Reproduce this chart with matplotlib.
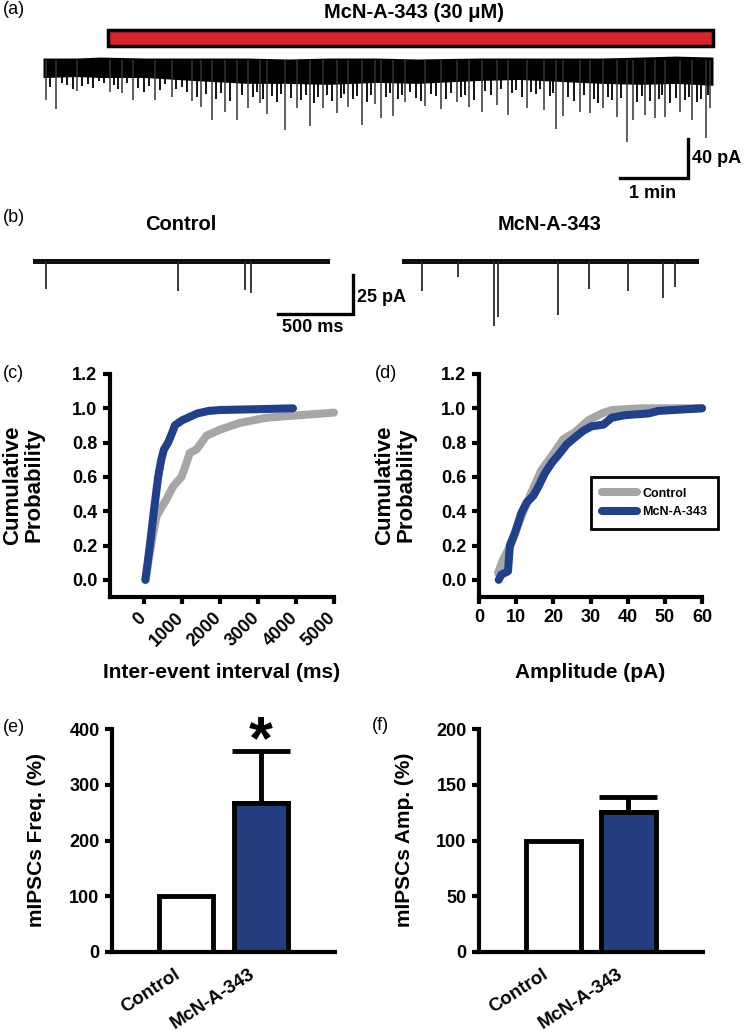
import matplotlib
matplotlib.use("Agg")
import matplotlib.pyplot as plt
from matplotlib.patches import Rectangle
from matplotlib.transforms import ScaledTranslation

plt.rcParams['font.family'] = ['Liberation Sans', 'DejaVu Sans']
plt.rcParams['font.weight'] = 'bold'
plt.rcParams['axes.labelweight'] = 'bold'

W, H = 751, 1035
BLUE = '#21408c'
BAR_BLUE = '#233e7f'
GRAY = '#a6a6a6'
RED = '#d9232e'

# ---- (a) long trace: band envelope (pA), larger events and smaller events (min, pA)
env_t = [0.0, 0.5, 0.84, 1.5, 2.2, 3.0, 3.6, 4.2, 4.9, 5.5, 6.4, 7.0, 7.6, 8.2, 8.8, 9.3, 9.85]
env_top = [2, 2, 3, 2, 2, 2, 1, 2, 2, 1, 2, 2, 2, 2, 3, 4, 3]
env_bot = [-18, -17, -18, -18, -21, -24, -24, -25, -23, -24, -21, -20, -22, -24, -25, -24, -26]
event_t = [0.05, 0.19, 0.50, 0.99, 1.16, 1.32, 1.65, 1.89, 2.19, 2.32, 2.48, 2.68, 2.85,
           3.01, 3.19, 3.29, 3.56, 3.73, 3.92, 4.12, 4.32, 4.49, 4.69, 4.88, 4.97, 5.14,
           5.32, 5.62, 5.85, 6.09, 6.26, 6.45, 6.67, 6.84, 7.11, 7.36, 7.54, 7.65, 7.90,
           8.04, 8.24, 8.44, 8.59, 8.68, 8.85, 9.00, 9.15, 9.37, 9.54, 9.74, 9.81]
event_amp = [41, 50, 32, 33, 34, 41, 41, 38, 42, 48, 62, 53, 62, 49, 44, 55, 72, 49, 68,
             49, 54, 48, 67, 45, 59, 57, 43, 47, 50, 43, 48, 53, 46, 56, 49, 51, 71, 57,
             53, 54, 49, 58, 84, 62, 56, 60, 58, 53, 62, 80, 49]
minor_t = [0.1, 0.28, 0.36, 0.44, 0.58, 0.66, 0.74, 0.82, 0.9,
           1.05, 1.1, 1.24, 1.4, 1.48, 1.56, 1.72, 1.8, 1.96, 2.04, 2.12,
           2.26, 2.4, 2.55, 2.62, 2.75, 2.92, 3.08, 3.14, 3.24, 3.36, 3.44, 3.5, 3.64, 3.8,
           3.86, 3.98, 4.05, 4.18, 4.25, 4.38, 4.43, 4.56, 4.62, 4.76, 4.82,
           5.04, 5.1, 5.22, 5.28, 5.4, 5.48, 5.55, 5.7, 5.78, 5.93, 6.0, 6.15, 6.2, 6.34,
           6.5, 6.58, 6.74, 6.9, 6.96, 7.04, 7.18, 7.25, 7.3, 7.45, 7.5,
           7.72, 7.8, 7.96, 8.1, 8.16, 8.3, 8.36, 8.5, 8.74, 8.8, 8.92, 9.06, 9.1, 9.22,
           9.3, 9.44, 9.5, 9.62, 9.68, 9.78]
minor_amp = [28, 24, 26, 30, 27, 25, 29, 22, 24,
             26, 30, 24, 29, 33, 27, 31, 25, 30, 28, 33,
             38, 35, 40, 34, 42, 36, 38, 33, 40, 37, 43, 35, 39, 41,
             36, 44, 38, 36, 42, 39, 35, 40, 37, 43, 36,
             38, 34, 40, 36, 33, 39, 42, 35, 37, 40, 34, 38, 36, 41,
             32, 36, 30, 34, 31, 38, 33, 35, 30, 37, 34,
             38, 42, 36, 40, 44, 38, 41, 39, 43, 37, 42, 40, 36, 44,
             39, 41, 38, 43, 40, 36]
drug_on, drug_off = 0.96, 9.85

# ---- (b) 2-s sweeps: events (ms, pA)
ctrl_ev_t = [85, 967, 1413, 1453]
ctrl_ev_amp = [17, 18.6, 18, 20]
mcn_ev_t = [133, 373, 613, 640, 1040, 1247, 1507, 1740, 1820]
mcn_ev_amp = [18.6, 9.6, 41, 35, 34, 17, 18.6, 23, 16]
sweep_ms = 1980

# ---- (c) cumulative inter-event interval
ctrl_iei = [40, 120, 220, 325, 450, 588, 763, 982, 1114, 1200, 1377, 1509, 1640, 1990,
            2518, 3219, 4096, 5000]
ctrl_iei_p = [0.0, 0.12, 0.25, 0.37, 0.42, 0.47, 0.545, 0.60, 0.68, 0.74, 0.76, 0.80,
              0.84, 0.875, 0.915, 0.945, 0.96, 0.975]
mcn_iei = [30, 80, 150, 255, 368, 450, 520, 630, 760, 807, 900, 1000, 1200, 1400, 1700,
           2000, 3000, 3920]
mcn_iei_p = [0.0, 0.08, 0.2, 0.4, 0.6, 0.7, 0.76, 0.8, 0.87, 0.9, 0.915, 0.93, 0.95, 0.97,
             0.985, 0.99, 0.995, 1.0]

# ---- (d) cumulative amplitude
ctrl_amp = [5.1, 6.5, 8.7, 11.4, 14.1, 16.8, 19.5, 22.7, 25.8, 29.4, 33.0, 35.7, 43.8, 60]
ctrl_amp_p = [0.04, 0.12, 0.21, 0.37, 0.51, 0.64, 0.72, 0.82, 0.86, 0.93, 0.97, 0.99, 1.0, 1.0]
mcn_amp = [5.3, 6.0, 7.8, 8.3, 9.6, 11.4, 12.8, 14.6, 15.9, 17.7, 19.5, 21.8, 23.6, 25.8,
           28.1, 30.3, 33.5, 35.7, 39.3, 45.6, 48.3, 60]
mcn_amp_p = [0.0, 0.03, 0.05, 0.2, 0.27, 0.39, 0.45, 0.49, 0.54, 0.62, 0.68, 0.74, 0.79,
             0.83, 0.87, 0.895, 0.905, 0.945, 0.96, 0.97, 0.985, 1.0]

# ---- (e), (f) bar summaries
groups = ['Control', 'McN-A-343']
freq_mean = [100, 268]
freq_sem = [0, 93]
amp_mean = [100, 126]
amp_sem = [0, 13]


def px_axes(x0, y0, x1, y1):
    return fig.add_axes([x0 / W, 1 - y1 / H, (x1 - x0) / W, (y1 - y0) / H])


def px_text(x, y, s, **kw):
    fig.text(x / W, 1 - y / H, s, **kw)


def style_axes(ax):
    for side in ['top', 'right']:
        ax.spines[side].set_visible(False)
    for side in ['left', 'bottom']:
        ax.spines[side].set_linewidth(3)
    ax.tick_params(width=3, length=5, labelsize=13, pad=4)


def shift_xlabels(ax, dx_px):
    off = ScaledTranslation(dx_px / 100, 0, fig.dpi_scale_trans)
    for lbl in ax.get_xticklabels():
        lbl.set_transform(lbl.get_transform() + off)


fig = plt.figure(figsize=(W / 100, H / 100), dpi=100)

# ---------------- (a)
ax = px_axes(43, 20, 713, 200)
ax.set_xlim(0, 9.85)
ax.set_ylim(-143.6, 41.0)
ax.axis('off')
ax.fill_between(env_t, env_bot, env_top, color='black', lw=0)
ax.vlines(minor_t, 0, [-a for a in minor_amp], color='black', lw=1.3)
ax.vlines(event_t, 0, [-a for a in event_amp], color='#333333', lw=1.1)
ax.add_patch(Rectangle((drug_on, 14.4), drug_off - drug_on, 16.4, facecolor=RED,
                       edgecolor='black', lw=2.5, clip_on=False))
ax.plot([8.485, 9.485, 9.485], [-121, -121, -81], color='black', lw=2.4,
        solid_joinstyle='miter', clip_on=False)
px_text(414, 13, 'McN-A-343 (30 \u03bcM)', fontsize=14.5, ha='center', va='center')
px_text(692, 158, '40 pA', fontsize=13, ha='left', va='center')
px_text(653, 193, '1 min', fontsize=13, ha='center', va='center')
px_text(3, 10, '(a)', fontsize=13, fontweight='normal', ha='left', va='center')

# ---------------- (b)
for x0, ev_t, ev_amp, title in [(33, ctrl_ev_t, ctrl_ev_amp, 'Control'),
                                (402, mcn_ev_t, mcn_ev_amp, 'McN-A-343')]:
    axb = px_axes(x0, 240, x0 + 297, 330)
    axb.set_xlim(0, sweep_ms)
    axb.set_ylim(-43.6, 14.1)
    axb.axis('off')
    axb.fill_between([0, sweep_ms], [-1.6, -1.6], [1.6, 1.6], color='#111111', lw=0)
    axb.vlines(ev_t, 0, [-a for a in ev_amp], color='#2a2a2a', lw=1.3)
    px_text(x0 + 148, 224, title, fontsize=14.5, ha='center', va='center')
    if title == 'Control':
        axb.plot([1633, 2133, 2133], [-33.3, -33.3, -8.3], color='black', lw=2.4,
                 solid_joinstyle='miter', clip_on=False)
px_text(357, 297, '25 pA', fontsize=13, ha='left', va='center')
px_text(313, 327, '500 ms', fontsize=13, ha='center', va='center')
px_text(3, 218, '(b)', fontsize=13, fontweight='normal', ha='left', va='center')

# ---------------- (c)
ax = px_axes(110, 374, 334, 597)
ax.plot(ctrl_iei, ctrl_iei_p, color=GRAY, lw=5.8, solid_capstyle='round',
        solid_joinstyle='round', clip_on=False)
ax.plot(mcn_iei, mcn_iei_p, color=BLUE, lw=5.8, solid_capstyle='round',
        solid_joinstyle='round', clip_on=False)
ax.set_xlim(-900, 5000)
ax.set_ylim(-0.1, 1.2)
style_axes(ax)
ax.set_yticks([0, 0.2, 0.4, 0.6, 0.8, 1.0, 1.2])
ax.set_yticklabels(['0.0', '0.2', '0.4', '0.6', '0.8', '1.0', '1.2'])
ax.set_xticks([0, 1000, 2000, 3000, 4000, 5000])
ax.set_xticklabels(['0', '1000', '2000', '3000', '4000', '5000'], rotation=45,
                   ha='right', va='top', rotation_mode='anchor')
shift_xlabels(ax, -7)
px_text(23, 485, 'Cumulative\nProbability', fontsize=16, rotation=90, ha='center',
        va='center', linespacing=1.0)
px_text(222, 672, 'Inter-event interval (ms)', fontsize=15, ha='center', va='center')
px_text(3, 374, '(c)', fontsize=13, fontweight='normal', ha='left', va='center')

# ---------------- (d)
ax = px_axes(479, 374, 702, 597)
ax.plot(ctrl_amp, ctrl_amp_p, color=GRAY, lw=5.8, solid_capstyle='round',
        solid_joinstyle='round', clip_on=False, label='Control')
ax.plot(mcn_amp, mcn_amp_p, color=BLUE, lw=5.8, solid_capstyle='round',
        solid_joinstyle='round', clip_on=False, label='McN-A-343')
ax.set_xlim(0, 60)
ax.set_ylim(-0.1, 1.2)
style_axes(ax)
ax.set_yticks([0, 0.2, 0.4, 0.6, 0.8, 1.0, 1.2])
ax.set_yticklabels(['0.0', '0.2', '0.4', '0.6', '0.8', '1.0', '1.2'])
ax.set_xticks([0, 10, 20, 30, 40, 50, 60])
px_text(395, 485, 'Cumulative\nProbability', fontsize=16, rotation=90, ha='center',
        va='center', linespacing=1.0)
px_text(590, 672, 'Amplitude (pA)', fontsize=15, ha='center', va='center')
leg = ax.legend(loc='upper left', bbox_to_anchor=(591 / W, 1 - 477 / H),
                bbox_transform=fig.transFigure, fancybox=False, edgecolor='black',
                framealpha=1, prop={'size': 9, 'weight': 'bold'}, handlelength=2.8,
                handletextpad=0.45, borderpad=0.85, labelspacing=0.5, borderaxespad=0)
leg.get_frame().set_linewidth(2)
px_text(375, 374, '(d)', fontsize=13, fontweight='normal', ha='left', va='center')


# ---------------- (e), (f)
def bar_panel(x0, x1, means, sems, ymax, ystep, ylabel, label_x, star=False):
    ax = px_axes(x0, 729, x1, 952)
    xs = list(range(len(groups)))
    ax.errorbar(xs[1:], means[1:], yerr=[[0], sems[1:]], fmt='none', ecolor='black',
                elinewidth=3.5, capsize=21, capthick=3.5, zorder=1)
    ax.bar(xs, means, width=0.73, color=['white', BAR_BLUE], edgecolor='black',
           linewidth=3.5, zorder=2)
    ax.set_ylim(0, ymax)
    ax.set_xlim(-1, 2.0)
    style_axes(ax)
    ax.set_yticks(range(0, ymax + 1, ystep))
    ax.set_xticks(xs)
    ax.set_xticklabels(groups, rotation=33, ha='right', va='top', rotation_mode='anchor',
                       fontsize=13.5)
    ax.tick_params(axis='x', length=0, pad=10)
    shift_xlabels(ax, -12)
    px_text(label_x, 840, ylabel, fontsize=15, rotation=90, ha='center', va='center')
    if star:
        ax.text(1, means[1] + sems[1] - 36, '*', fontsize=44, ha='center', va='bottom',
                clip_on=False)
    return ax


bar_panel(112, 335, freq_mean, freq_sem, 400, 100, 'mIPSCs Freq. (%)', 37, star=True)
bar_panel(479, 703, amp_mean, amp_sem, 200, 50, 'mIPSCs Amp. (%)', 404)
px_text(3, 728, '(e)', fontsize=13, fontweight='normal', ha='left', va='center')
px_text(372, 726, '(f)', fontsize=13, fontweight='normal', ha='left', va='center')

fig.savefig('out.png', dpi=100)
